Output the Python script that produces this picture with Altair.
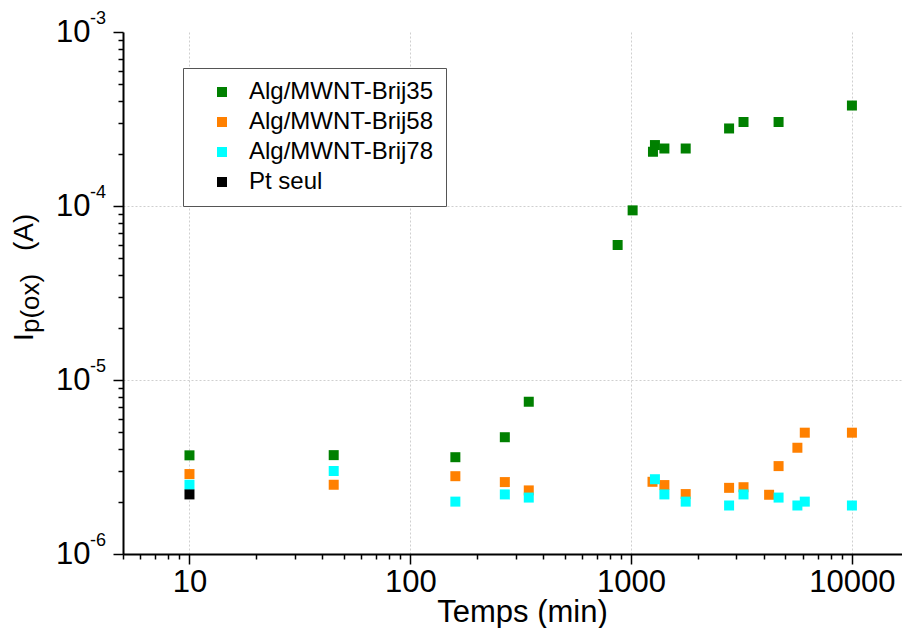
import altair as alt
import pandas as pd

series_names = ["Alg/MWNT-Brij35", "Alg/MWNT-Brij58", "Alg/MWNT-Brij78", "Pt seul"]
series_colors = ["#008000", "#ff8000", "#00ffff", "#000000"]

brij35_t = [10, 45, 160, 268, 344, 869, 1016, 1256, 1282, 1415, 1767, 2778, 3229, 4654, 10000]
brij35_i = [3.69e-6, 3.7e-6, 3.6e-6, 4.69e-6, 7.5e-6, 5.97e-5, 9.44e-5, 2.05e-4, 2.24e-4,
            2.14e-4, 2.14e-4, 2.79e-4, 3.04e-4, 3.04e-4, 3.78e-4]
brij58_t = [10, 45, 160, 268, 344, 1250, 1415, 1767, 2778, 3229, 4217, 4654, 5663, 6117, 10000]
brij58_i = [2.88e-6, 2.5e-6, 2.8e-6, 2.59e-6, 2.32e-6, 2.6e-6, 2.49e-6, 2.21e-6, 2.4e-6,
            2.42e-6, 2.19e-6, 3.2e-6, 4.08e-6, 4.98e-6, 4.98e-6]
brij78_t = [10, 45, 160, 268, 344, 1282, 1415, 1767, 2778, 3229, 4654, 5663, 6117, 10000]
brij78_i = [2.5e-6, 3.0e-6, 2.0e-6, 2.2e-6, 2.11e-6, 2.69e-6, 2.2e-6, 2.0e-6, 1.9e-6,
            2.2e-6, 2.11e-6, 1.9e-6, 2.0e-6, 1.9e-6]
pt_t = [10]
pt_i = [2.2e-6]

x_domain = [5, 16857]
y_domain = [1e-6, 1e-3]
y_major = [1e-3, 1e-4, 1e-5, 1e-6]
y_exponents = ["-3", "-4", "-5", "-6"]

x_tick_values = [float(f"{m}e{e}") for e in range(0, 5) for m in range(1, 10)
                 if x_domain[0] <= float(f"{m}e{e}") <= x_domain[1]]
y_tick_values = [float(f"{m}e{e}") for e in range(-6, -3) for m in range(1, 10)] + [1e-3]

frames = []
for name, t, i in zip(series_names, [brij35_t, brij58_t, brij78_t, pt_t],
                      [brij35_i, brij58_i, brij78_i, pt_i]):
    frames.append(pd.DataFrame({"temps": t, "ip": i, "serie": name}))
df = pd.concat(frames, ignore_index=True)

FONT = "Liberation Sans"
MAJ = "abs(log(datum.value)/LN10 - round(log(datum.value)/LN10)) < 0.001"

xscale = alt.Scale(type="log", domain=x_domain, nice=False)
yscale = alt.Scale(type="log", domain=y_domain, nice=False)

x_axis = alt.Axis(
    values=x_tick_values,
    labelExpr=f"({MAJ}) ? format(datum.value, 'd') : ''",
    tickSize={"condition": {"test": MAJ, "value": 10}, "value": 5},
    gridOpacity={"condition": {"test": MAJ, "value": 1}, "value": 0},
    grid=True, gridColor="#cfcfcf", gridDash=[2, 2], gridWidth=1,
    domainColor="black", domainWidth=2, tickColor="black", tickWidth=1.5,
    labelFont=FONT, labelFontSize=31, labelColor="black", labelPadding=3,
    labelOverlap=False, labelFlush=False,
    title="Temps (min)", titleFont=FONT, titleFontSize=31, titleFontWeight="normal",
    titleColor="black", titleX=399, titleY=67, titleBaseline="alphabetic",
)
y_axis = alt.Axis(
    values=y_tick_values,
    labelExpr=f"({MAJ}) ? '10' : ''",
    tickSize={"condition": {"test": MAJ, "value": 10}, "value": 5},
    gridOpacity={"condition": {"test": f"({MAJ}) && datum.value < 0.0009", "value": 1}, "value": 0},
    grid=True, gridColor="#cfcfcf", gridDash=[2, 2], gridWidth=1,
    domainColor="black", domainWidth=2, tickColor="black", tickWidth=1.5,
    labelFont=FONT, labelFontSize=31, labelColor="black", labelPadding=23,
    labelOverlap=False, labelFlush=False, labelBaseline="middle",
    title=None,
)

points = alt.Chart(df).mark_square(size=100, opacity=1).encode(
    x=alt.X("temps:Q", scale=xscale, axis=x_axis),
    y=alt.Y("ip:Q", scale=yscale, axis=y_axis),
    color=alt.Color(
        "serie:N",
        scale=alt.Scale(domain=series_names, range=series_colors),
        legend=alt.Legend(
            title=None, orient="none", legendX=60, legendY=36,
            symbolType="square", symbolSize=100, symbolStrokeWidth=0,
            labelFont=FONT, labelFontSize=24, labelColor="black",
            padding=12, symbolOffset=15, labelOffset=15, rowPadding=6,
            strokeColor="#555555", fillColor="white", labelLimit=400,
        ),
    ),
)

exp_df = pd.DataFrame({"v": y_major, "e": y_exponents})
exps = alt.Chart(exp_df).mark_text(
    align="left", baseline="alphabetic", font=FONT, fontSize=18, color="black", dy=-8
).encode(
    y=alt.Y("v:Q", scale=yscale),
    x=alt.value(-33),
    text="e:N",
)

title_I = alt.Chart(pd.DataFrame({"t": ["I"]})).mark_text(
    angle=270, align="left", baseline="alphabetic", font=FONT, fontSize=28, color="black"
).encode(x=alt.value(-90), y=alt.value(309), text="t:N")
title_sub = alt.Chart(pd.DataFrame({"t": ["p(ox)"]})).mark_text(
    angle=270, align="left", baseline="alphabetic", font=FONT, fontSize=26, color="black"
).encode(x=alt.value(-84), y=alt.value(301), text="t:N")
title_A = alt.Chart(pd.DataFrame({"t": ["(A)"]})).mark_text(
    angle=270, align="left", baseline="alphabetic", font=FONT, fontSize=28, color="black"
).encode(x=alt.value(-90), y=alt.value(219), text="t:N")

chart = alt.layer(points, exps, title_I, title_sub, title_A).properties(
    width=779, height=522,
    autosize=alt.AutoSizeParams(type="none"),
    padding={"left": 115, "top": 24, "right": 0, "bottom": 76},
).configure_view(strokeWidth=0)

chart.save("out.html", embed_options={"renderer": "svg", "actions": False})
